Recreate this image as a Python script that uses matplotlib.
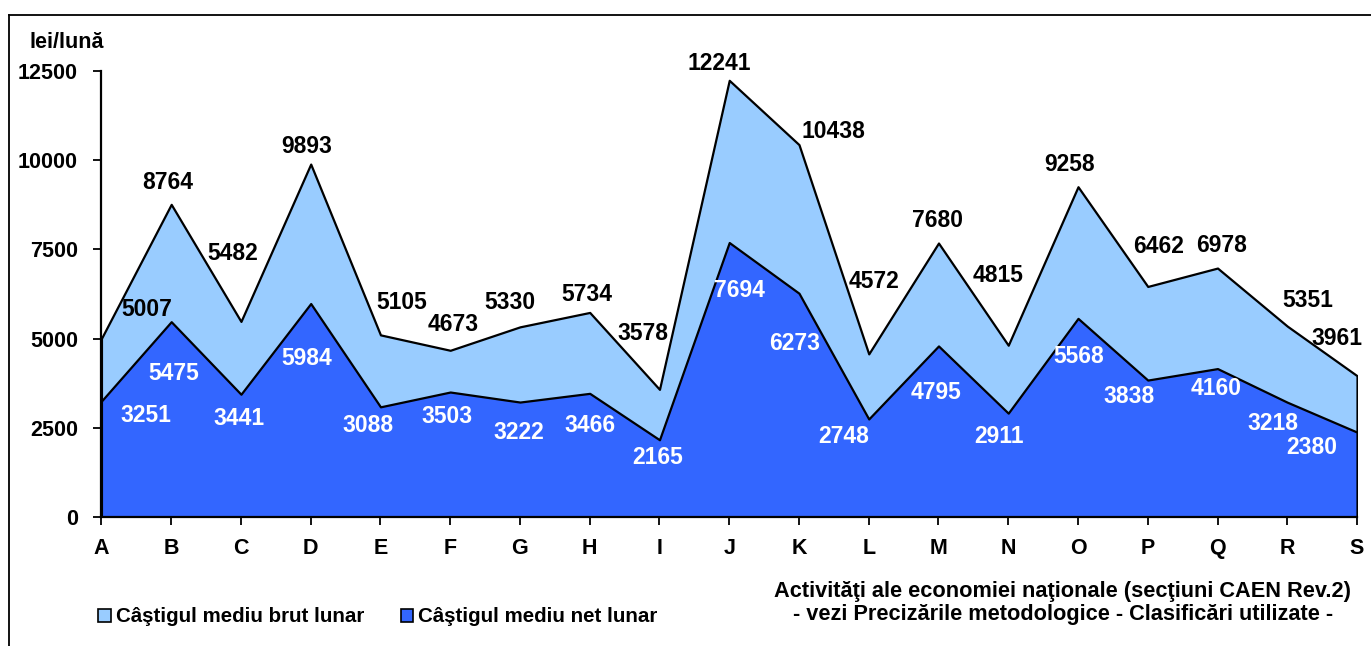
import matplotlib.pyplot as plt
from matplotlib.patches import Patch
from matplotlib.lines import Line2D

plt.rcParams['font.family'] = ['Liberation Sans', 'DejaVu Sans']
plt.rcParams['font.weight'] = 'bold'

sections = ['A', 'B', 'C', 'D', 'E', 'F', 'G', 'H', 'I', 'J',
            'K', 'L', 'M', 'N', 'O', 'P', 'Q', 'R', 'S']
brut = [5007, 8764, 5482, 9893, 5105, 4673, 5330, 5734, 3578, 12241,
        10438, 4572, 7680, 4815, 9258, 6462, 6978, 5351, 3961]
net = [3251, 5475, 3441, 5984, 3088, 3503, 3222, 3466, 2165, 7694,
       6273, 2748, 4795, 2911, 5568, 3838, 4160, 3218, 2380]
yticks = [0, 2500, 5000, 7500, 10000, 12500]

# label offsets in pixels (label centre relative to the point)
brut_off = [(45, 29), (-3, 22), (-8, 68), (-4, 18), (21, 32), (3, 26), (-10, 24),
            (-3, 18), (-17, 56), (-10, 17), (34, 13), (5, 72), (-1, 23), (-10, 70),
            (-8, 22), (11, 40), (4, 23), (21, 26), (-20, 37)]
net_off = [(44, -14), (3, -52), (-2, -24), (-4, -55), (-12, -19), (-3, -24), (-1, -30),
           (0, -32), (-2, -18), (10, -48), (-4, -50), (-25, -18), (-2, -47), (-9, -23),
           (1, -38), (-19, -16), (-1, -20), (-14, -21), (-45, -15)]

light = '#99CCFF'
dark = '#3366FF'

fig = plt.figure(figsize=(13.71, 6.46), dpi=100)
ax = fig.add_axes([0.074, 0.1997, 0.9898 - 0.074, 0.890 - 0.1997])

x = list(range(len(sections)))
ax.fill_between(x, brut, color=light, edgecolor='black', linewidth=1.6, zorder=2)
ax.fill_between(x, net, color=dark, edgecolor='black', linewidth=1.6, zorder=3)

for i, v in enumerate(brut):
    ax.annotate(str(v), (i, v), xytext=brut_off[i], textcoords='offset pixels',
                ha='center', va='center', fontsize=16.5, fontweight='bold',
                color='black', zorder=5)
for i, v in enumerate(net):
    ax.annotate(str(v), (i, v), xytext=net_off[i], textcoords='offset pixels',
                ha='center', va='center', fontsize=16.5, fontweight='bold',
                color='white', zorder=5)

ax.set_xlim(0, len(sections) - 1)
ax.set_ylim(0, 12500)
ax.set_xticks(x)
ax.set_xticklabels(sections)
ax.set_yticks(yticks)
ax.set_yticklabels([str(t) for t in yticks])
ax.tick_params(axis='both', direction='out', length=6, width=1.3, labelsize=15.5)
ax.tick_params(axis='y', pad=11)
ax.tick_params(axis='x', pad=9)
for s in ['top', 'right']:
    ax.spines[s].set_visible(False)
for s in ['left', 'bottom']:
    ax.spines[s].set_linewidth(1.6)
    ax.spines[s].set_zorder(4)

fig.text(67 / 1371, 1 - 42 / 646, 'lei/lună', ha='center', va='center',
         fontsize=15.5, fontweight='bold')

fig.text(1063 / 1371, 1 - 603 / 646,
         'Activităţi ale economiei naţionale (secţiuni CAEN Rev.2)\n'
         '- vezi Precizările metodologice - Clasificări utilizate -',
         ha='center', va='center', fontsize=15.7, fontweight='bold',
         linespacing=1.15)

handles = [Patch(facecolor=light, edgecolor='black', linewidth=1.2),
           Patch(facecolor=dark, edgecolor='black', linewidth=1.2)]
fig.legend(handles, ['Câştigul mediu brut lunar', 'Câştigul mediu net lunar'],
           loc='center', bbox_to_anchor=(378 / 1371, 1 - 617 / 646), ncol=2,
           frameon=False, fontsize=14.8, handlelength=0.6, handleheight=0.6,
           handletextpad=0.25, columnspacing=1.8, borderpad=0)

# frame of the picture
fig.add_artist(Line2D([9 / 1371, 9 / 1371], [0, 1 - 15 / 646], color='black',
                      linewidth=1.3, transform=fig.transFigure))
fig.add_artist(Line2D([9 / 1371, 1], [1 - 15 / 646, 1 - 15 / 646], color='black',
                      linewidth=1.3, transform=fig.transFigure))

fig.savefig('out.png', dpi=100)
